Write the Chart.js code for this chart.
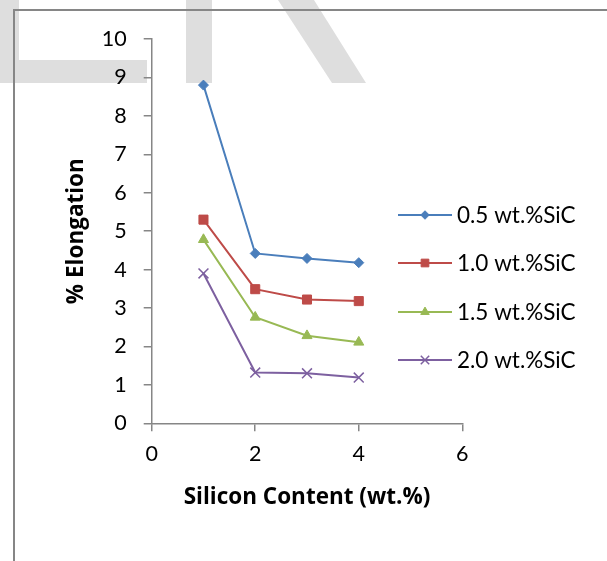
<!DOCTYPE html>
<html>
<head>
<meta charset="utf-8">
<script src="https://cdn.jsdelivr.net/npm/chart.js@4/dist/chart.umd.min.js"></script>
<style>
  html, body { margin: 0; padding: 0; background: #fff; }
  #elongChart { display: block; }
</style>
</head>
<body>
<canvas id="elongChart" width="607" height="561"></canvas>
<script>
const siliconContent = [1, 2, 3, 4];
const elong05 = [8.8, 4.42, 4.29, 4.18];
const elong10 = [5.3, 3.49, 3.22, 3.18];
const elong15 = [4.78, 2.76, 2.28, 2.11];
const elong20 = [3.9, 1.32, 1.3, 1.19];
const seriesNames = ['0.5 wt.%SiC', '1.0 wt.%SiC', '1.5 wt.%SiC', '2.0 wt.%SiC'];
const xTicks = [0, 2, 4, 6];
const yTicks = [0, 1, 2, 3, 4, 5, 6, 7, 8, 9, 10];

const FONT = 'Lato, Carlito, Calibri, sans-serif';
const TITLE_FONT = '"Open Sans", Carlito, Calibri, sans-serif';
const AXIS_GREY = '#868686';

const styles = [
  { color: '#4a7ebb', pointStyle: 'rectRot', radius: 5 },
  { color: '#be4b48', pointStyle: 'rect', radius: 6.4 },
  { color: '#98b954', pointStyle: 'triangle', radius: 5.8 },
  { color: '#7d60a0', pointStyle: 'crossRot', radius: 7 }
];

function toPoints(ys) {
  return ys.map((y, i) => ({ x: siliconContent[i], y: y }));
}

const allSeries = [elong05, elong10, elong15, elong20];

// watermark + outer frame behind everything
const backdrop = {
  id: 'backdrop',
  beforeDraw(chart) {
    const c = chart.ctx;
    c.save();
    c.fillStyle = '#dedede';
    c.fillRect(0, 0, 19, 83);
    c.fillRect(0, 60, 147, 23);
    c.fillRect(186, 0, 26, 83);
    c.beginPath();
    c.moveTo(278, 0);
    c.lineTo(314, 0);
    c.lineTo(366, 83);
    c.lineTo(332, 83);
    c.closePath();
    c.fill();
    c.strokeStyle = AXIS_GREY;
    c.lineWidth = 2;
    c.beginPath();
    c.moveTo(607, 10);
    c.lineTo(14, 10);
    c.lineTo(14, 561);
    c.stroke();
    c.restore();
  }
};

// excel-like legend: short line with marker
const sideLegend = {
  id: 'sideLegend',
  afterDraw(chart) {
    const c = chart.ctx;
    const rows = [215, 263, 312, 360];
    c.save();
    chart.data.datasets.forEach((ds, i) => {
      const y = rows[i];
      c.strokeStyle = ds.borderColor;
      c.lineWidth = 2;
      c.beginPath();
      c.moveTo(398, y);
      c.lineTo(452, y);
      c.stroke();
      c.fillStyle = ds.pointBackgroundColor;
      c.strokeStyle = ds.pointBorderColor;
      c.lineWidth = ds.pointBorderWidth;
      Chart.helpers.drawPoint(c, {
        pointStyle: ds.pointStyle,
        radius: ds.pointRadius * 0.85,
        rotation: 0,
        borderWidth: ds.pointBorderWidth
      }, 425, y);
      c.fillStyle = '#000';
      c.font = '22.5px ' + FONT;
      c.textBaseline = 'middle';
      c.textAlign = 'left';
      c.fillText(ds.label, 457, y + 1);
    });
    c.restore();
  }
};

const ctx = document.getElementById('elongChart').getContext('2d');
const elongChart = new Chart(ctx, {
  type: 'scatter',
  data: {
    datasets: allSeries.map((ys, i) => ({
      label: seriesNames[i],
      data: toPoints(ys),
      showLine: true,
      borderColor: styles[i].color,
      borderWidth: 2,
      pointStyle: styles[i].pointStyle,
      pointRadius: styles[i].radius,
      pointBackgroundColor: styles[i].color,
      pointBorderColor: styles[i].color,
      pointBorderWidth: i === 3 ? 1.5 : 1,
      tension: 0
    }))
  },
  options: {
    responsive: false,
    animation: false,
    events: [],
    layout: { padding: { left: 0, top: 39, right: 144.7, bottom: 0 } },
    plugins: {
      legend: { display: false },
      tooltip: { enabled: false }
    },
    scales: {
      x: {
        type: 'linear',
        min: 0,
        max: 6,
        afterBuildTicks: axis => { axis.ticks = xTicks.map(v => ({ value: v })); },
        afterFit: axis => { axis.height = 137.7; },
        ticks: { padding: 10, color: '#000', font: { family: FONT, size: 21.5 } },
        grid: { drawOnChartArea: false, drawTicks: true, tickLength: 8, color: AXIS_GREY, lineWidth: 1.5 },
        border: { color: AXIS_GREY, width: 1.5 },
        title: {
          display: true,
          text: 'Silicon Content (wt.%)',
          color: '#000',
          font: { family: TITLE_FONT, size: 22.5, weight: 'bold' },
          padding: { top: 0, bottom: 49.5 }
        }
      },
      y: {
        type: 'linear',
        min: 0,
        max: 10,
        afterBuildTicks: axis => { axis.ticks = yTicks.map(v => ({ value: v })); },
        afterFit: axis => { axis.width = 151.7; },
        ticks: { padding: 17, color: '#000', font: { family: FONT, size: 21.5 } },
        grid: { drawOnChartArea: false, drawTicks: true, tickLength: 8, color: AXIS_GREY, lineWidth: 1.5 },
        border: { color: AXIS_GREY, width: 1.5 },
        title: {
          display: true,
          text: '% Elongation',
          color: '#000',
          font: { family: TITLE_FONT, size: 22.5, weight: 'bold' },
          padding: { top: 63.5, bottom: 0 }
        }
      }
    }
  },
  plugins: [backdrop, sideLegend]
});
</script>
</body>
</html>
